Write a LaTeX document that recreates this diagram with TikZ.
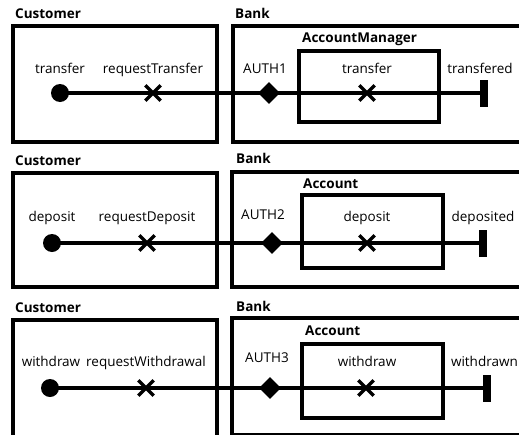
\documentclass[tikz,border=0pt]{standalone}
\usepackage{fontspec}
\setmainfont{Open Sans}
\usetikzlibrary{shapes.geometric,shapes.misc}
\begin{document}
\begin{tikzpicture}[x=1pt,y=-1pt,
  lane/.style={draw,line width=3.4pt},
  part/.style={draw,line width=3.1pt},
  lbl/.style={font=\fontsize{13.5}{16}\selectfont,inner sep=0pt,anchor=base},
  ttl/.style={font=\bfseries\fontsize{13.5}{16}\selectfont,inner sep=0pt,anchor=base west},
  startdot/.style={circle,fill,minimum size=18pt,inner sep=0pt},
  xmark/.style={cross out,draw,line width=3.4pt,minimum size=12pt,inner sep=0pt},
  gate/.style={diamond,fill,minimum size=22pt,inner sep=0pt},
  endbar/.style={rectangle,fill,minimum width=7.5pt,minimum height=27pt,inner sep=0pt},
  flow/.style={line width=3.1pt}]
\useasboundingbox (0,0) rectangle (519,434);
\clip (0,0) rectangle (519,434);

% ---------- transfer ----------
\node[ttl] (cust1) at (15,18) {Customer};
\node[ttl] (bank1) at (235,18) {Bank};
\draw[lane] (13,26) rectangle (217,142);
\draw[lane] (525,26) -- (233,26) -- (233,142) -- (525,142);
\node[ttl] (am1) at (302,42) {AccountManager};
\draw[part] (299,51) rectangle (439,122);
\node[lbl] (l1a) at (60,73) {transfer};
\node[lbl] (l1b) at (153,73) {requestTransfer};
\node[lbl] (l1c) at (265,73) {AUTH1};
\node[lbl] (l1d) at (367,73) {transfer};
\node[lbl] (l1e) at (480,73) {transfered};
\node[startdot] (s1) at (60,93) {};
\node[xmark] (x1a) at (153,93) {};
\node[gate] (g1) at (269,93) {};
\node[xmark] (x1b) at (367,93) {};
\node[endbar] (e1) at (484,93) {};
\draw[flow] (s1.center) -- (e1.center);

% ---------- deposit ----------
\node[ttl] (cust2) at (15,165) {Customer};
\node[ttl] (bank2) at (236,163) {Bank};
\draw[lane] (13,173) rectangle (217,287);
\draw[lane] (525,172) -- (232,172) -- (232,287) -- (525,287);
\node[ttl] (acc2) at (303,188) {Account};
\draw[part] (302,195) rectangle (443,268);
\node[lbl] (l2a) at (52,221) {deposit};
\node[lbl] (l2b) at (147,221) {requestDeposit};
\node[lbl] (l2c) at (263,219) {AUTH2};
\node[lbl] (l2d) at (367,221) {deposit};
\node[lbl] (l2e) at (483,221) {deposited};
\node[startdot] (s2) at (52,243) {};
\node[xmark] (x2a) at (147,243) {};
\node[gate] (g2) at (272,243) {};
\node[xmark] (x2b) at (367,243) {};
\node[endbar] (e2) at (483,243) {};
\draw[flow] (s2.center) -- (e2.center);

% ---------- withdraw ----------
\node[ttl] (cust3) at (15,312) {Customer};
\node[ttl] (bank3) at (236,311) {Bank};
\draw[lane] (13,445) -- (13,320) -- (217,320) -- (217,445);
\draw[lane] (525,318) -- (232,318) -- (232,434.5) -- (525,434.5);
\node[ttl] (acc3) at (305,335) {Account};
\draw[part] (302,344) rectangle (443,418);
\node[lbl] (l3a) at (51,366) {withdraw};
\node[lbl] (l3b) at (146,366) {requestWithdrawal};
\node[lbl] (l3c) at (267,362) {AUTH3};
\node[lbl] (l3d) at (367,366) {withdraw};
\node[lbl,anchor=base east] (l3e) at (518,366) {withdrawn};
\node[startdot] (s3) at (50,388) {};
\node[xmark] (x3a) at (146,388) {};
\node[gate] (g3) at (270,388) {};
\node[xmark] (x3b) at (366,388) {};
\node[endbar] (e3) at (487,388) {};
\draw[flow] (s3.center) -- (e3.center);
\end{tikzpicture}
\end{document}
